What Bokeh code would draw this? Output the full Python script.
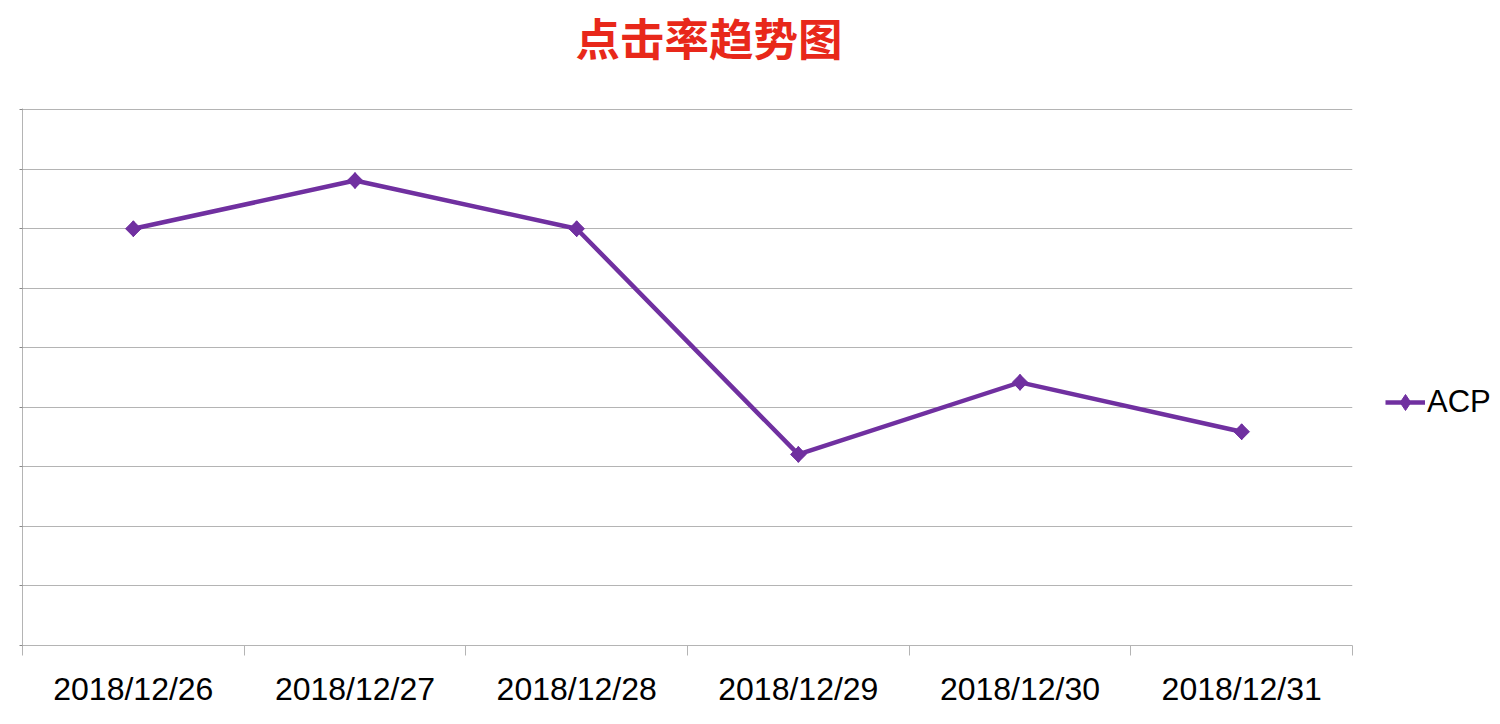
import math
from bokeh.plotting import figure
from bokeh.models import FixedTicker, Legend, LegendItem, Range1d, Title, LinearAxis
from bokeh.embed import file_html
from bokeh.resources import INLINE

title_text = "点击率趋势图"
dates = ["2018/12/26", "2018/12/27", "2018/12/28", "2018/12/29", "2018/12/30", "2018/12/31"]
acp = [7.0, 7.81, 7.0, 3.21, 4.42, 3.59]
series_name = "ACP"
y_ticks = [0, 1, 2, 3, 4, 5, 6, 7, 8, 9]

PURPLE = "#7030a0"
GRID = "#b4b4b4"

xs = [i + 0.5 for i in range(len(dates))]

p = figure(width=1484, height=708, output_backend="svg", toolbar_location=None,
           x_range=Range1d(0, len(dates)), y_range=Range1d(y_ticks[0], y_ticks[-1] + 0.02),
           min_border_left=22, min_border_right=132, min_border_top=108, min_border_bottom=63,
           title=None)
p.frame_width = 1330
p.frame_height = 537
p.outline_line_color = None
p.background_fill_color = "white"
p.border_fill_color = "white"

line_r = p.line(xs, acp, line_color=PURPLE, line_width=4.5)
# diamond (used for the legend swatch) lies under the square marker drawn on top
legend_mark = p.scatter(xs, acp, marker="diamond", size=16, fill_color=PURPLE, line_color=PURPLE)
mark_r = p.scatter(xs, acp, marker="square", angle=math.pi / 4, size=11,
                   fill_color=PURPLE, line_color=PURPLE)

# x axis
xa = p.xaxis[0]
xa.ticker = FixedTicker(ticks=xs, minor_ticks=list(range(len(dates) + 1)))
xa.major_label_overrides = {x: d for x, d in zip(xs, dates)}
xa.major_tick_line_color = None
xa.major_tick_out = 0
xa.major_tick_in = 0
xa.minor_tick_line_color = GRID
xa.minor_tick_out = 10
xa.minor_tick_in = 0
xa.axis_line_color = GRID
xa.major_label_text_font = "Liberation Sans"
xa.major_label_text_font_size = "32px"
xa.major_label_text_color = "black"
xa.major_label_standoff = 15

# y axis
ya = p.yaxis[0]
ya.ticker = FixedTicker(ticks=y_ticks, minor_ticks=[])
ya.major_label_overrides = {t: "" for t in y_ticks}
ya.major_tick_line_color = "#888888"
ya.major_tick_out = 3
ya.major_tick_in = 0
ya.axis_line_color = GRID
ya.major_label_standoff = 0

p.xgrid.grid_line_color = None
p.ygrid.grid_line_color = GRID
p.ygrid.grid_line_width = 1

# blank spacer (tick-only axis, invisible) between plot area and title
spacer = LinearAxis(ticker=FixedTicker(ticks=[3], minor_ticks=[]), axis_line_color=None,
                    major_tick_line_color=None, minor_tick_line_color=None,
                    major_label_overrides={3: ""},
                    major_tick_out=40, major_tick_in=0, minor_tick_out=0, major_label_standoff=0)
p.add_layout(spacer, "above")

title = Title(text=title_text, align="left", offset=553, standoff=0, vertical_align="bottom",
              text_font="Noto Sans CJK SC", text_font_style="bold", text_font_size="44.5px",
              text_color="#e8281a")
p.add_layout(title, "above")

legend = Legend(items=[LegendItem(label=series_name, renderers=[line_r, legend_mark])],
                location=(33, 223), padding=0, margin=0, border_line_color=None,
                background_fill_alpha=0, label_text_font="Liberation Sans",
                label_text_font_size="31px", label_text_color="black",
                glyph_width=40, glyph_height=40, label_height=40, label_standoff=2)
p.add_layout(legend, "right")

open("out.html", "w").write(file_html(p, INLINE))
